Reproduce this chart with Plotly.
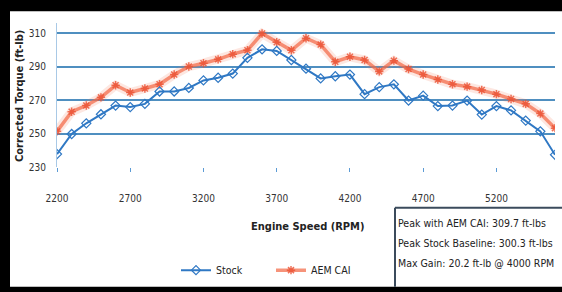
import plotly.graph_objects as go

rpm = list(range(2200, 5700, 100))
stock = [237.7, 249.7, 256.1, 261.5, 266.7, 265.8, 267.7, 275.1, 275.1, 277.2,
         281.7, 283.3, 285.8, 295.2, 300.3, 299.3, 293.9, 288.7, 282.9, 284.2,
         285.2, 273.5, 277.7, 279.4, 269.7, 272.6, 266.4, 266.7, 269.7, 261.3,
         266.4, 263.8, 257.7, 251.3, 237.3]
aem = [251.3, 263.0, 266.7, 271.6, 278.8, 274.5, 276.9, 279.4, 285.2, 290.0,
       292.0, 294.3, 297.4, 299.7, 309.7, 304.5, 299.7, 306.9, 303.1, 292.9,
       295.8, 293.9, 287.1, 293.5, 288.5, 285.2, 282.3, 279.4, 278.0, 276.0,
       273.5, 270.6, 267.7, 261.9, 253.2]
xticks = [2200, 2700, 3200, 3700, 4200, 4700, 5200]
yticks = [230, 250, 270, 290, 310]
notes = ["Peak with AEM CAI: 309.7 ft-lbs",
         "Peak Stock Baseline: 300.3 ft-lbs",
         "Max Gain: 20.2 ft-lb @ 4000 RPM"]

FONT = "DejaVu Sans Condensed, Liberation Sans Narrow, sans-serif"
W, H = 562, 292
L, R, T, B = 57, 7, 23, 121
pw, ph = W - L - R, H - T - B

def px(x):
    return (x - L) / pw

def py(y):
    return (H - B - y) / ph

fig = go.Figure()
# soft halo of the AEM line (blurry look of the original)
fig.add_trace(go.Scatter(
    x=rpm, y=aem, mode="lines", showlegend=False, hoverinfo="skip",
    line=dict(color="rgba(245,120,90,0.18)", width=9)))
fig.add_trace(go.Scatter(
    x=rpm, y=aem, name="AEM CAI", mode="lines+markers",
    line=dict(color="rgba(242,105,70,0.72)", width=3.5),
    marker=dict(symbol="asterisk-open", size=7, color="rgba(235,80,50,0.8)",
                line=dict(width=1.5, color="rgba(235,80,50,0.8)"))))
fig.add_trace(go.Scatter(
    x=rpm, y=stock, name="Stock", mode="lines+markers",
    line=dict(color="#2f78c4", width=2),
    marker=dict(symbol="diamond-open", size=7, color="#2f78c4",
                line=dict(width=1.2, color="#2f78c4"))))

shapes = [
    dict(type="rect", xref="paper", yref="paper", x0=px(10), x1=px(W + 2), y0=py(H + 2), y1=py(11),
         fillcolor="white", line_width=0, layer="below"),
    dict(type="line", xref="paper", yref="paper", x0=px(395), x1=px(W + 2), y0=py(213), y1=py(213),
         line=dict(color="#3b4b5c", width=2), layer="above"),
    dict(type="line", xref="paper", yref="paper", x0=px(395), x1=px(395), y0=py(213), y1=py(H + 2),
         line=dict(color="#3b4b5c", width=2), layer="above"),
]

annotations = [
    dict(text=n, xref="paper", yref="paper", x=px(396), y=py(229 + 20.3 * i),
         xanchor="left", yanchor="middle", showarrow=False,
         font=dict(family=FONT, size=10.5, color="#222"))
    for i, n in enumerate(notes)
]
annotations.append(dict(text="<b>Corrected Torque (ft-lb)</b>", xref="paper", yref="paper",
                        x=px(20), y=py(98), xanchor="center", yanchor="middle",
                        textangle=-90, showarrow=False,
                        font=dict(family=FONT, size=11, color="#222")))
annotations.append(dict(text="<b>Engine Speed (RPM)</b>", xref="paper", yref="paper",
                        x=px(307), y=py(232), xanchor="center", yanchor="middle",
                        showarrow=False,
                        font=dict(family=FONT, size=11, color="#222")))

fig.update_layout(
    width=W, height=H, margin=dict(l=L, r=R, t=T, b=B),
    paper_bgcolor="black", plot_bgcolor="white",
    showlegend=True,
    legend=dict(orientation="h", x=px(176), y=py(277), xanchor="left", yanchor="middle",
                traceorder="reversed", font=dict(family=FONT, size=10.5, color="#222"),
                itemwidth=30, entrywidthmode="pixels", entrywidth=50,
                bgcolor="rgba(0,0,0,0)"),
    shapes=shapes, annotations=annotations,
    font=dict(family=FONT, size=10, color="#333"),
)
fig.update_xaxes(range=[2200, 5600], tickvals=xticks, ticks="outside", ticklen=4,
                 tickcolor="#5b9bd5", showgrid=False, showline=False, zeroline=False,
                 ticklabelstandoff=18, tickfont=dict(family=FONT, size=10, color="#333"))
fig.update_yaxes(range=[230, 316], tickvals=yticks, showgrid=True, gridcolor="#4f8fc0",
                 gridwidth=1.5, showline=True, linecolor="#a9c9e6", linewidth=1,
                 zeroline=False, ticks="", ticklabelstandoff=8,
                 tickfont=dict(family=FONT, size=10, color="#333"))

fig.write_html("out.html", config={"displayModeBar": False},
               post_script="document.body.style.margin='0';document.body.style.overflow='hidden';")
